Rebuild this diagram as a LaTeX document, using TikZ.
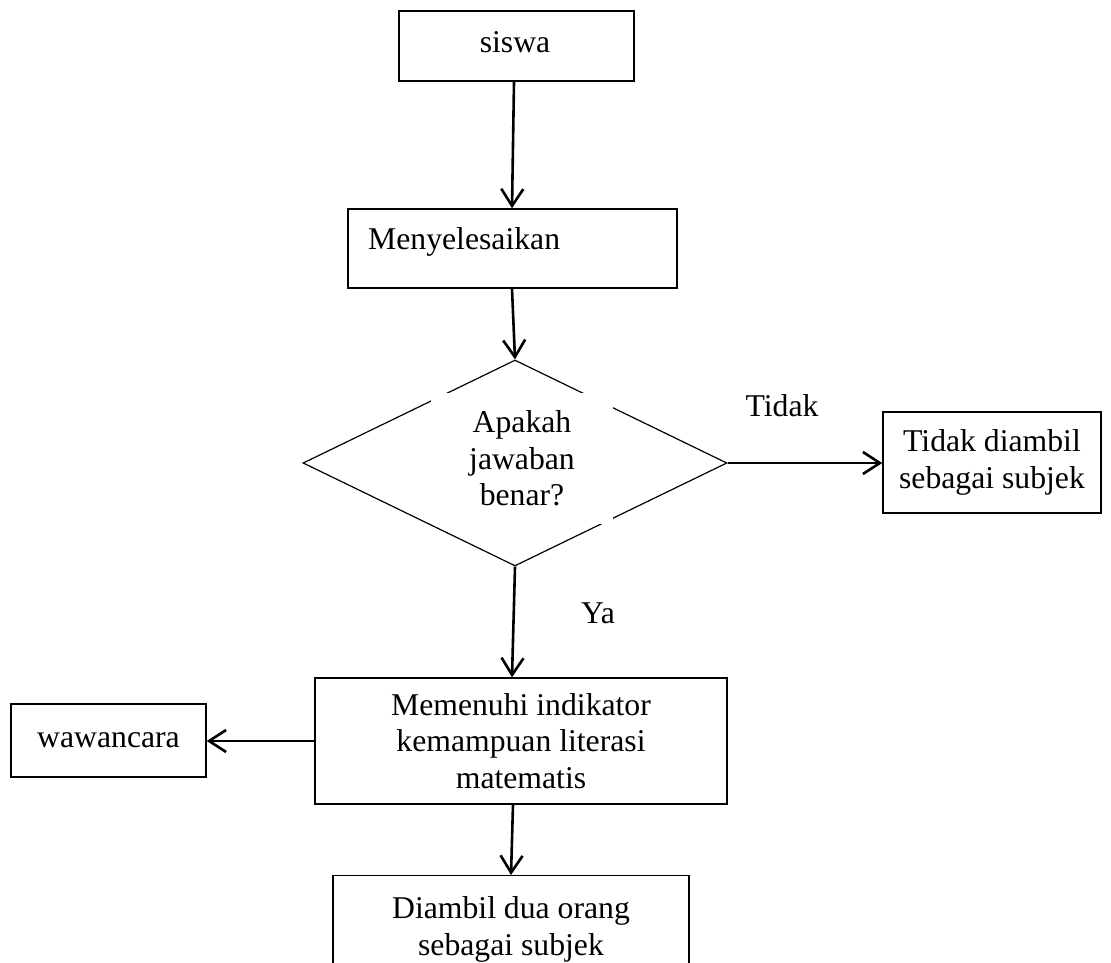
\documentclass[tikz,border=0pt]{standalone}
\usepackage{fontspec}
\setmainfont{Liberation Serif}
\usetikzlibrary{arrows.meta,shapes.geometric}
\tikzset{
  every node/.style={font=\fontsize{31.7}{36.5}\selectfont},
  box/.style={draw, line width=1.4pt, rectangle, inner sep=0pt, align=center},
  dia/.style={draw, line width=1.2pt, diamond, inner sep=0pt, minimum width=424, minimum height=206},
  cover/.style={fill=white, inner sep=0pt, minimum width=182, minimum height=131, align=center},
  arr/.style={line width=2.6pt, -{Straight Barb[length=17pt,width=22pt]}},
  lbl/.style={inner sep=0pt}
}
\begin{document}
\begin{tikzpicture}[x=1pt,y=-1pt]
\clip (0,0) rectangle (1111,963);
\fill[white] (0,0) rectangle (1111,963);
\node[box, minimum width=235, minimum height=70] (siswa) at (516.5,46) {};
\node[lbl] (siswat) at (515,42) {siswa};
\node[box, minimum width=329, minimum height=79] (m) at (512.5,248.5) {};
\node[lbl, anchor=west] (mt) at (368,242) {Menyelesaikan};
\node[dia] (d) at (515,463) {};
\node[cover] (dt) at (522,458.5) {Apakah\\jawaban\\benar?};
\node[box, minimum width=218, minimum height=101] (t) at (992,462.5) {Tidak diambil\\sebagai subjek};
\node[box, minimum width=412, minimum height=126] (mm) at (521,741) {Memenuhi indikator\\kemampuan literasi\\matematis};
\node[box, minimum width=195, minimum height=73] (w) at (108.5,740.5) {wawancara};
\node[box, anchor=north, minimum width=356, inner ysep=21pt] (dd) at (511,875) {Diambil dua orang\\sebagai subjek};
\node[lbl] (tl) at (782,406) {Tidak};
\node[lbl] (yl) at (598,613) {Ya};
\draw[arr] ([xshift=-2.5pt]siswa.south) -- ([xshift=-0.5pt]m.north);
\draw[arr] ([xshift=-0.5pt]m.south) -- (d.north);
\draw[arr] (d.east) -- (d.east -| t.west);
\draw[arr] (d.south) -- ([xshift=-9pt]mm.north);
\draw[arr] (mm.west) -- (mm.west -| w.east);
\draw[arr] ([xshift=-8pt]mm.south) -- (dd.north);
\end{tikzpicture}
\end{document}
